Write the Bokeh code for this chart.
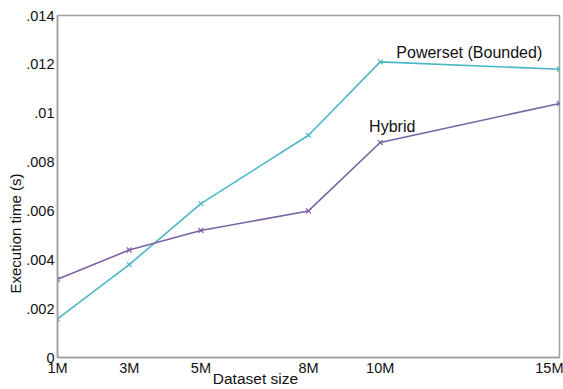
from bokeh.plotting import figure
from bokeh.models import Range1d, FixedTicker, Label, Title, LinearAxis
from bokeh.embed import file_html
from bokeh.resources import INLINE

sizes = [1, 3, 5, 8, 10, 15]
size_labels = ["1M", "3M", "5M", "8M", "10M", "15M"]
powerset = [0.00158, 0.0038, 0.0063, 0.0091, 0.0121, 0.0118]
hybrid = [0.0032, 0.0044, 0.0052, 0.0060, 0.0088, 0.0104]
y_ticks = [0, 0.002, 0.004, 0.006, 0.008, 0.010, 0.012, 0.014]
y_tick_labels = ["0", ".002", ".004", ".006", ".008", ".01", ".012", ".014"]

FONT = "Liberation Sans"
TEAL = "#4ab7c6"
PURPLE = "#7b62a3"
XLABEL_POS = 6.52  # where the x-axis title sits (off-centre, as in the reference)

p = figure(width=563, height=389, output_backend="svg", toolbar_location=None,
           x_range=Range1d(1, 15), y_range=Range1d(0, 0.014),
           min_border_left=57, min_border_right=4, min_border_top=15, min_border_bottom=28)

p.xgrid.visible = False
p.ygrid.visible = False
p.outline_line_color = "#a0a0a0"
p.outline_line_width = 1.5
p.background_fill_color = "white"
p.border_fill_color = "white"

for ax in (p.xaxis[0], p.yaxis[0]):
    ax.major_tick_line_color = None
    ax.minor_tick_line_color = None
    ax.major_tick_out = 0
    ax.major_tick_in = 0
    ax.axis_line_color = "#a0a0a0"
    ax.axis_line_width = 1.5
    ax.major_label_text_font = FONT
    ax.major_label_text_font_size = "14.5px"
    ax.major_label_text_color = "#111111"

p.xaxis.ticker = FixedTicker(ticks=sizes)
p.xaxis.major_label_overrides = {s: l for s, l in zip(sizes, size_labels)}
p.xaxis.major_label_standoff = 2

p.yaxis.ticker = FixedTicker(ticks=y_ticks)
p.yaxis.major_label_overrides = {t: l for t, l in zip(y_ticks, y_tick_labels)}
p.yaxis.major_label_standoff = 3

# x-axis title as a second, line-less axis just under the tick labels
xtitle_axis = LinearAxis(ticker=FixedTicker(ticks=[XLABEL_POS]),
                         major_label_overrides={XLABEL_POS: "Dataset size"},
                         axis_line_color=None, major_tick_line_color=None,
                         minor_tick_line_color=None, major_tick_out=0, major_tick_in=0,
                         major_label_standoff=-9, major_label_text_font=FONT,
                         major_label_text_font_size="15.5px",
                         major_label_text_color="#111111")
p.add_layout(xtitle_axis, "below")

p.line(sizes, powerset, line_color=TEAL, line_width=1.6)
p.scatter(sizes, powerset, marker="x", size=7, line_color=TEAL, line_width=1.2)
p.line(sizes, hybrid, line_color=PURPLE, line_width=1.6)
p.scatter(sizes, hybrid, marker="x", size=7, line_color=PURPLE, line_width=1.2)

p.add_layout(Label(x=10.45, y=0.0125, text="Powerset (Bounded)", text_font=FONT,
                   text_font_size="16px", text_baseline="middle", text_color="#111111"))
p.add_layout(Label(x=9.69, y=0.00945, text="Hybrid", text_font=FONT,
                   text_font_size="16px", text_baseline="middle", text_color="#111111"))

p.add_layout(Title(text="Execution time (s)", align="left", offset=64, standoff=0,
                   text_font=FONT, text_font_size="15px", text_font_style="normal",
                   text_color="#111111"), "left")

open("out.html", "w").write(file_html(p, INLINE))
